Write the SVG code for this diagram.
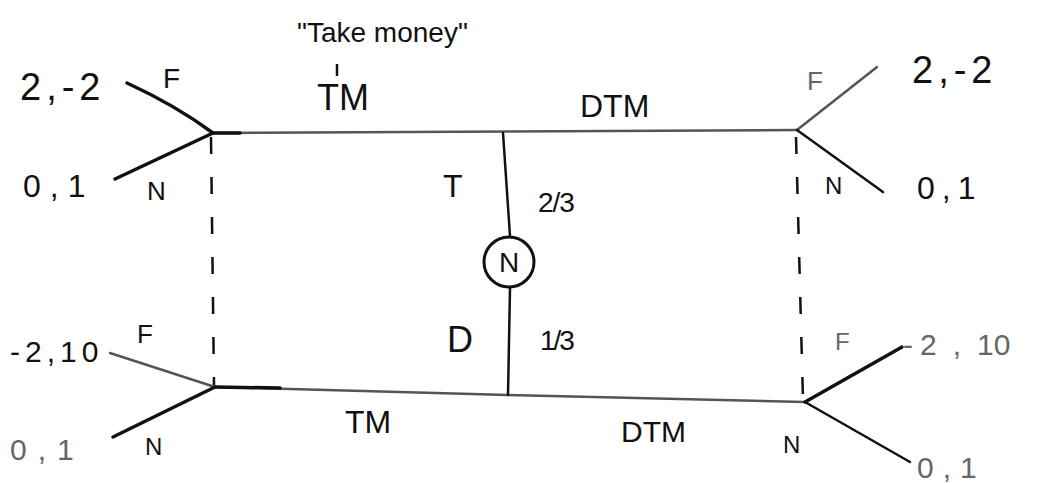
<svg xmlns="http://www.w3.org/2000/svg" width="1039" height="483" viewBox="0 0 1039 483">
<style>
text{font-family:"Liberation Sans","DejaVu Sans",sans-serif;fill:#111}
.br{stroke:#111;stroke-width:3.5;fill:none;stroke-linecap:round}
.thin{stroke:#111;stroke-width:2.5;fill:none;stroke-linecap:round}
.gray{stroke:#555;stroke-width:2.5;fill:none;stroke-linecap:round}
.hz{stroke:#555;stroke-width:2.5;fill:none}
.ds{stroke:#111;stroke-width:2.5;stroke-dasharray:17 23;fill:none}
.faint{fill:#666}
</style>
<rect width="1039" height="483" fill="#fff"/>
<g id="connectors">
<path class="hz" d="M213,133 L797,130"/>
<path class="hz" d="M215,387 L508,395 L805,402"/>
<path class="br" d="M215,387 L280,388"/>
<path class="br" d="M213,133 L240,133"/>
<path class="thin" d="M503,133 L510,236"/>
<path class="thin" d="M510,288 L508,395"/>
<line class="ds" x1="211" y1="137" x2="214" y2="385"/>
<line class="ds" x1="796" y1="137" x2="803" y2="400"/>
<path class="br" d="M127,83 Q175,105 213,133"/>
<line class="br" x1="115" y1="179" x2="213" y2="133"/>
<line class="gray" x1="797" y1="130" x2="877" y2="67"/>
<line class="thin" x1="797" y1="130" x2="883" y2="192"/>
<line class="gray" x1="110" y1="353" x2="215" y2="387"/>
<line class="br" x1="113" y1="437" x2="215" y2="387"/>
<line class="br" x1="805" y1="402" x2="902" y2="347"/>
<line class="thin" x1="805" y1="402" x2="910" y2="462"/>
</g>
<g id="nature">
<circle cx="509" cy="262" r="25" fill="#fff" stroke="#111" stroke-width="3"/>
<text x="509" y="272" font-size="28" text-anchor="middle">N</text>
</g>
<g id="labels">
<text x="297" y="42" font-size="28">"Take money"</text>
<line x1="337" y1="64" x2="337" y2="76" stroke="#111" stroke-width="2.5"/>
<text x="317" y="110" font-size="36">TM</text>
<text x="580" y="117" font-size="32">DTM</text>
<text x="443" y="197" font-size="32">T</text>
<text x="538" y="212" font-size="28" letter-spacing="-1">2/3</text>
<text x="447" y="352" font-size="36">D</text>
<text x="540" y="350" font-size="28" letter-spacing="-2">1/3</text>
<text x="345" y="433" font-size="32">TM</text>
<text x="621" y="442" font-size="30">DTM</text>
</g>
<g id="node-left-top">
<text x="20" y="100" font-size="38" letter-spacing="5">2,-2</text>
<text x="23" y="197" font-size="32" letter-spacing="9">0,1</text>
<text x="163" y="88" font-size="28">F</text>
<text x="147" y="200" font-size="26">N</text>
</g>
<g id="node-right-top">
<text x="912" y="83" font-size="38" letter-spacing="5">2,-2</text>
<text x="917" y="199" font-size="32" letter-spacing="7">0,1</text>
<text x="807" y="90" font-size="26" class="faint">F</text>
<text x="825" y="194" font-size="24">N</text>
</g>
<g id="node-left-bottom">
<text x="10" y="362" font-size="30" letter-spacing="5">-2,10</text>
<text x="10" y="460" font-size="30" letter-spacing="11" class="faint">0,1</text>
<text x="137" y="343" font-size="26">F</text>
<text x="145" y="455" font-size="24">N</text>
</g>
<g id="node-right-bottom">
<text x="903" y="355" font-size="30" class="faint">-<tspan dx="7">2</tspan><tspan dx="16">,</tspan><tspan dx="16">10</tspan></text>
<text x="917" y="478" font-size="30" letter-spacing="9" class="faint">0,1</text>
<text x="835" y="350" font-size="24" class="faint">F</text>
<text x="783" y="453" font-size="24">N</text>
</g>
</svg>
